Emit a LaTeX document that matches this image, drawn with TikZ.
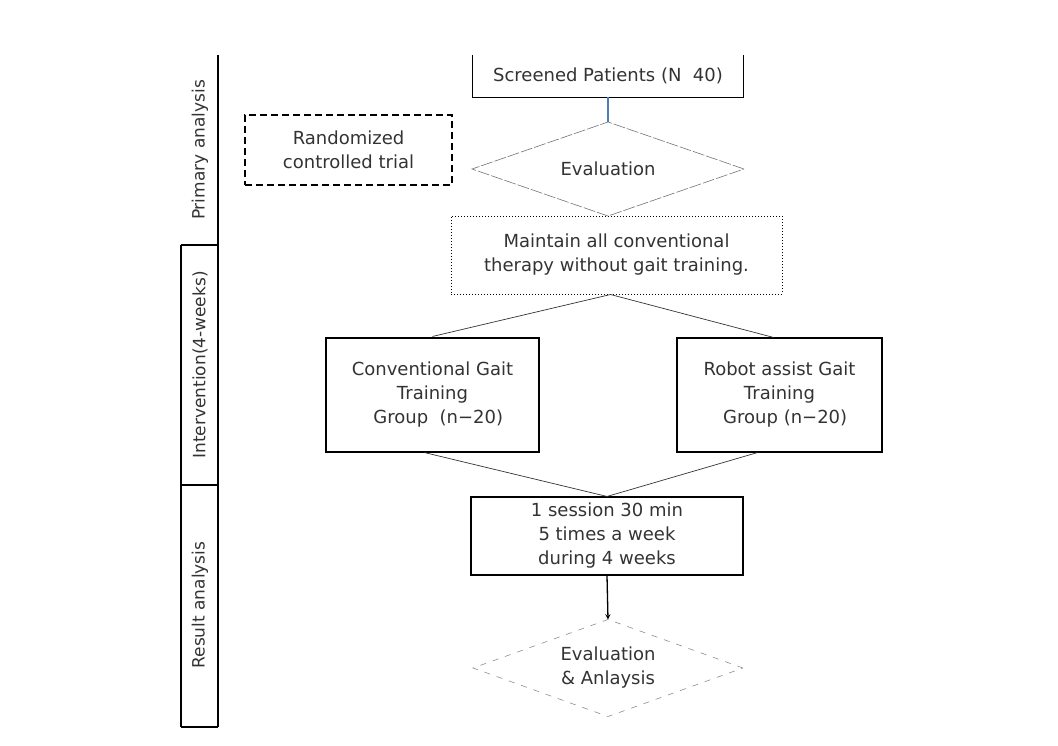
\documentclass[tikz,border=0pt]{standalone}
\usepackage{fontspec}
\setmainfont{DejaVu Sans}
\usepackage{tikz}
\usetikzlibrary{shapes,arrows}
\definecolor{steel}{RGB}{74,126,187}
\tikzstyle{box} = [draw=black, line width=1.1pt, text centered, align=center, inner sep=0pt]
\tikzstyle{rctbox} = [box, dash pattern=on 7pt off 4pt]
\tikzstyle{keepbox} = [box, line width=1pt, dotted]
\tikzstyle{evalnode} = [diamond, aspect=2.9, draw=black!55, line width=0.6pt, align=center, inner sep=0pt, outer sep=0pt]
\tikzstyle{side} = [rotate=90, text=black!80, font=\fontsize{17}{20}\selectfont]
\tikzstyle{link} = [draw=black!80, line width=0.7pt]

\begin{document}
\begin{tikzpicture}[x=1pt, y=-1pt, font=\fontsize{18}{24}\selectfont, text=black!80]
\useasboundingbox (0,0) rectangle (1058,745);
% side bar with the three phases
\draw[line width=1.5pt] (218,55) -- (218,727);
\draw[line width=1.5pt] (181,245) -- (218,245) (181,485) -- (218,485) (181,727) -- (218,727);
\draw[line width=1.5pt] (181,245) -- (181,727);
\node[side] (primary) at (200,150) {Primary analysis};
\node[side] (interv) at (200,365) {Intervention(4-weeks)};
\node[side] (result) at (200,605) {Result analysis};
% flow
\node[draw=none, minimum width=270pt, minimum height=42pt] (scr) at (608,76) {Screened Patients (N \ 40)};
\draw[line width=1.1pt] (scr.north west) -- (scr.south west) -- (scr.south east) -- (scr.north east);
\node[evalnode, dash pattern=on 12pt off 2pt, minimum width=272pt, minimum height=94pt] (eval) at (608,169) {Evaluation};
\node[rctbox, minimum width=207pt, minimum height=70pt] (rct) at (348.5,150) {Randomized\\controlled trial};
\node[keepbox, minimum width=331pt, minimum height=78pt] (keep) at (616.5,255) {Maintain all conventional\\therapy without gait training.};
\node[box, minimum width=213pt, minimum height=114pt] (conv) at (432.5,395) {Conventional Gait\\Training\\\ \ Group \ (n−20)};
\node[box, minimum width=205pt, minimum height=114pt] (robot) at (779.5,395) {Robot assist Gait\\Training\\\ \ Group (n−20)};
\node[box, minimum width=272pt, minimum height=78pt] (sess) at (607,536) {1 session 30 min\\5 times a week\\during 4 weeks};
\node[evalnode, aspect=2.8, dash pattern=on 6pt off 7pt, draw=black!45, minimum width=270pt, minimum height=97pt] (final) at (608,668) {Evaluation\\\& Anlaysis};

\draw[draw=steel, line width=1.1pt] (scr.south) -- (eval.north);
\draw[link] ([xshift=-6pt]keep.south) -- ([yshift=1pt]conv.north);
\draw[link] ([xshift=-6pt]keep.south) -- ([xshift=-6pt]robot.north);
\draw[link] ([xshift=-8pt]conv.south) -- (sess.north);
\draw[link] ([xshift=-22pt]robot.south) -- (sess.north);
\draw[link, draw=black, line width=1.3pt, -stealth] (sess.south) -- (final.north);
\end{tikzpicture}
\end{document}
